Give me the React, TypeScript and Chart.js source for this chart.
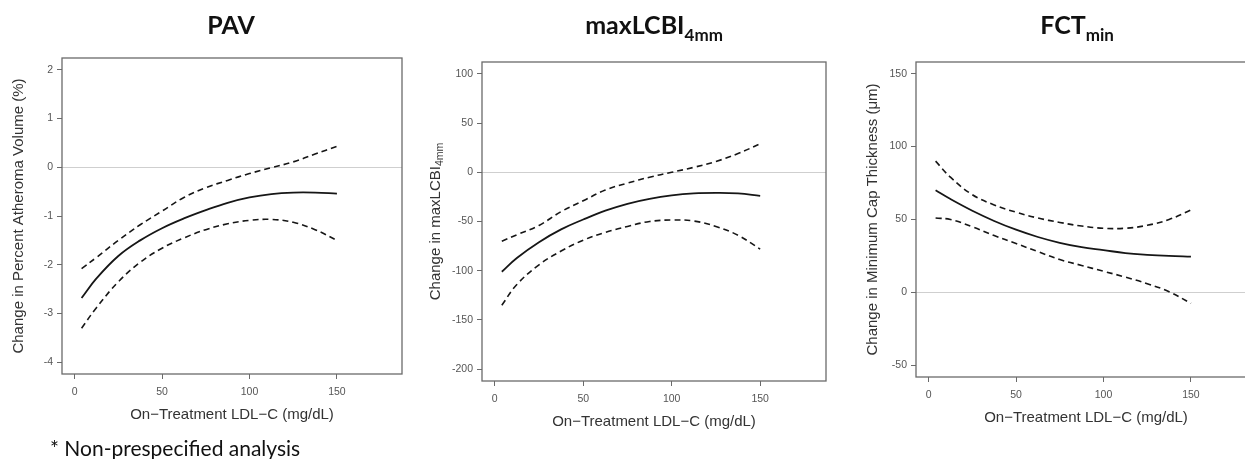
import React, { useEffect, useRef } from "react";
import { Chart, registerables } from "chart.js";

Chart.register(...registerables);

// ---------- data ----------
const xValues = [4, 12.5, 25, 37.5, 50, 62.5, 75, 87.5, 100, 112.5, 125, 137.5, 150];
const xTicks = [0, 50, 100, 150];
const xLimits = [0, 180];
const xTitle = "On\u2212Treatment LDL\u2212C (mg/dL)";

const pavFit = [-2.68, -2.28, -1.82, -1.5, -1.25, -1.05, -0.88, -0.73, -0.62, -0.55, -0.52, -0.52, -0.54];
const pavUpper = [-2.08, -1.85, -1.5, -1.18, -0.9, -0.62, -0.42, -0.27, -0.13, -0.01, 0.11, 0.27, 0.43];
const pavLower = [-3.3, -2.88, -2.35, -1.95, -1.66, -1.45, -1.28, -1.16, -1.09, -1.07, -1.13, -1.28, -1.5];
const pavTicks = [-4, -3, -2, -1, 0, 1, 2];
const pavLimits = [-4, 2];

const lcbiFit = [-101, -87, -71, -58, -48, -39, -32, -27, -23.5, -21.5, -21, -21.5, -24];
const lcbiUpper = [-70, -63.5, -54, -40, -29, -18, -11, -5, 0, 5, 11, 19, 29];
const lcbiLower = [-135, -114, -94, -80, -69, -61, -55, -50, -48.5, -49.5, -55, -64, -78];
const lcbiTicks = [-200, -150, -100, -50, 0, 50, 100];
const lcbiLimits = [-200, 100];

const fctFit = [70, 64, 56, 49, 43, 38, 34, 31, 29, 27, 25.8, 25, 24.5];
const fctUpper = [90, 79, 67, 60, 55, 51, 48, 45.5, 44, 44, 46, 50, 56.5];
const fctLower = [51, 50, 45, 39, 33.5, 28, 22.5, 18.5, 14.5, 10.5, 6, 0.5, -7.5];
const fctTicks = [-50, 0, 50, 100, 150];
const fctLimits = [-50, 150];

const footnote = "* Non-prespecified analysis";

// ---------- helpers ----------
const extend = (lim: number[]) => {
  const d = (lim[1] - lim[0]) * 0.04;
  return [lim[0] - d, lim[1] + d];
};

const rFramePlugin = {
  id: "rFrame",
  beforeDatasetsDraw(chart: any) {
    const { ctx, chartArea, scales } = chart;
    const y0 = scales.y.getPixelForValue(0);
    ctx.save();
    ctx.strokeStyle = "#cfcfcf";
    ctx.lineWidth = 1;
    ctx.beginPath();
    ctx.moveTo(chartArea.left, Math.round(y0) + 0.5);
    ctx.lineTo(chartArea.right, Math.round(y0) + 0.5);
    ctx.stroke();
    ctx.restore();
  },
  afterDraw(chart: any, _args: any, opts: any) {
    const { ctx, chartArea } = chart;
    const { left, top, right, bottom } = chartArea;
    ctx.save();
    ctx.strokeStyle = "#6a6a6a";
    ctx.lineWidth = 1.3;
    ctx.strokeRect(left, top, right - left, bottom - top);
    // y-axis title with optional subscript
    const mainFont = '15px "Liberation Sans", Arial, sans-serif';
    const subFont = '10.5px "Liberation Sans", Arial, sans-serif';
    ctx.font = mainFont;
    const wMain = ctx.measureText(opts.text).width;
    ctx.font = subFont;
    const wSub = opts.sub ? ctx.measureText(opts.sub).width : 0;
    const total = wMain + wSub;
    ctx.translate(opts.x, (top + bottom) / 2);
    ctx.rotate(-Math.PI / 2);
    ctx.fillStyle = "#333";
    ctx.textBaseline = "middle";
    ctx.textAlign = "left";
    ctx.font = mainFont;
    ctx.fillText(opts.text, -total / 2, 0);
    if (opts.sub) {
      ctx.font = subFont;
      ctx.fillText(opts.sub, -total / 2 + wMain, 4);
    }
    ctx.restore();
  },
};

type PanelProps = {
  fit: number[];
  upper: number[];
  lower: number[];
  yTicks: number[];
  yLimits: number[];
  yTitle: string;
  ySub?: string;
  left: number;
  width: number;
  top: number;
  yWidth: number;
  xHeight: number;
  xTitlePad: number;
  yTitleX: number;
};

function Panel(p: PanelProps) {
  const ref = useRef<HTMLCanvasElement | null>(null);
  useEffect(() => {
    if (!ref.current) return;
    const toPts = (arr: number[]) => xValues.map((x, i) => ({ x, y: arr[i] }));
    const xr = extend(xLimits);
    const yr = extend(p.yLimits);
    const lineBase = {
      borderColor: "#161616",
      pointRadius: 0,
      fill: false,
      tension: 0.4,
    };
    const tickFont = { family: '"Liberation Sans", Arial, sans-serif', size: 10.5 };
    const chart = new Chart(ref.current, {
      type: "line",
      data: {
        datasets: [
          { ...lineBase, data: toPts(p.upper), borderWidth: 1.6, borderDash: [6, 4] },
          { ...lineBase, data: toPts(p.fit), borderWidth: 1.8 },
          { ...lineBase, data: toPts(p.lower), borderWidth: 1.6, borderDash: [6, 4] },
        ],
      },
      options: {
        animation: false,
        responsive: false,
        maintainAspectRatio: false,
        layout: { padding: { left: 0, top: p.top, right: 8, bottom: 0 } },
        plugins: {
          legend: { display: false },
          tooltip: { enabled: false },
          rFrame: { text: p.yTitle, sub: p.ySub, x: p.yTitleX },
        } as any,
        scales: {
          x: {
            type: "linear",
            min: xr[0],
            max: xr[1],
            afterBuildTicks: (s: any) => {
              s.ticks = xTicks.map((v) => ({ value: v }));
            },
            afterFit: (s: any) => {
              s.height = p.xHeight;
              s.paddingLeft = 0;
              s.paddingRight = 0;
            },
            border: { display: false },
            grid: { drawOnChartArea: false, drawTicks: true, tickLength: 5, color: "#6a6a6a" },
            ticks: { color: "#555", font: tickFont, padding: 7, maxRotation: 0, autoSkip: false },
            title: {
              display: true,
              text: xTitle,
              color: "#333",
              font: { family: '"Liberation Sans", Arial, sans-serif', size: 15 },
              padding: { top: 0, bottom: p.xTitlePad },
            },
          },
          y: {
            type: "linear",
            min: yr[0],
            max: yr[1],
            afterBuildTicks: (s: any) => {
              s.ticks = p.yTicks.map((v) => ({ value: v }));
            },
            afterFit: (s: any) => {
              s.width = p.yWidth;
              s.paddingTop = 0;
              s.paddingBottom = 0;
            },
            border: { display: false },
            grid: { drawOnChartArea: false, drawTicks: true, tickLength: 5, color: "#6a6a6a" },
            ticks: { color: "#555", font: tickFont, padding: 4, autoSkip: false },
          },
        },
      },
      plugins: [rFramePlugin],
    });
    return () => chart.destroy();
  }, []);
  return (
    <canvas
      ref={ref}
      width={p.width}
      height={459}
      style={{ position: "absolute", left: p.left, top: 0, width: p.width, height: 459 }}
    />
  );
}

const titleStyle: React.CSSProperties = {
  position: "absolute",
  top: 10,
  transform: "translateX(-50%)",
  fontFamily: "Lato, 'Open Sans', sans-serif",
  fontWeight: 700,
  fontSize: 25,
  lineHeight: "28px",
  color: "#111",
  whiteSpace: "nowrap",
};
const subStyle: React.CSSProperties = { fontSize: 17, verticalAlign: "-7px", lineHeight: 0 };

export default function App() {
  return (
    <div
      style={{
        position: "absolute",
        left: 0,
        top: 0,
        width: 1245,
        height: 459,
        overflow: "hidden",
        background: "#fff",
      }}
    >
      <Panel
        fit={pavFit}
        upper={pavUpper}
        lower={pavLower}
        yTicks={pavTicks}
        yLimits={pavLimits}
        yTitle={"Change in Percent Atheroma Volume (%)"}
        left={0}
        width={410}
        top={58}
        yWidth={62}
        xHeight={85}
        xTitlePad={35}
        yTitleX={19}
      />
      <Panel
        fit={lcbiFit}
        upper={lcbiUpper}
        lower={lcbiLower}
        yTicks={lcbiTicks}
        yLimits={lcbiLimits}
        yTitle={"Change in maxLCBI"}
        ySub={"4mm"}
        left={415}
        width={419}
        top={62}
        yWidth={67}
        xHeight={78}
        xTitlePad={28}
        yTitleX={21}
      />
      <Panel
        fit={fctFit}
        upper={fctUpper}
        lower={fctLower}
        yTicks={fctTicks}
        yLimits={fctLimits}
        yTitle={"Change in Minimum Cap Thickness (\u03bcm)"}
        left={830}
        width={434}
        top={62}
        yWidth={86}
        xHeight={82}
        xTitlePad={32}
        yTitleX={43}
      />
      <div style={{ ...titleStyle, left: 231 }}>PAV</div>
      <div style={{ ...titleStyle, left: 654 }}>
        maxLCBI<span style={subStyle}>4mm</span>
      </div>
      <div style={{ ...titleStyle, left: 1077 }}>
        FCT<span style={subStyle}>min</span>
      </div>
      <div
        style={{
          position: "absolute",
          left: 50,
          top: 435,
          fontFamily: "Lato, 'Open Sans', sans-serif",
          fontSize: 21,
          lineHeight: "26px",
          color: "#111",
          whiteSpace: "nowrap",
        }}
      >
        {footnote}
      </div>
    </div>
  );
}
